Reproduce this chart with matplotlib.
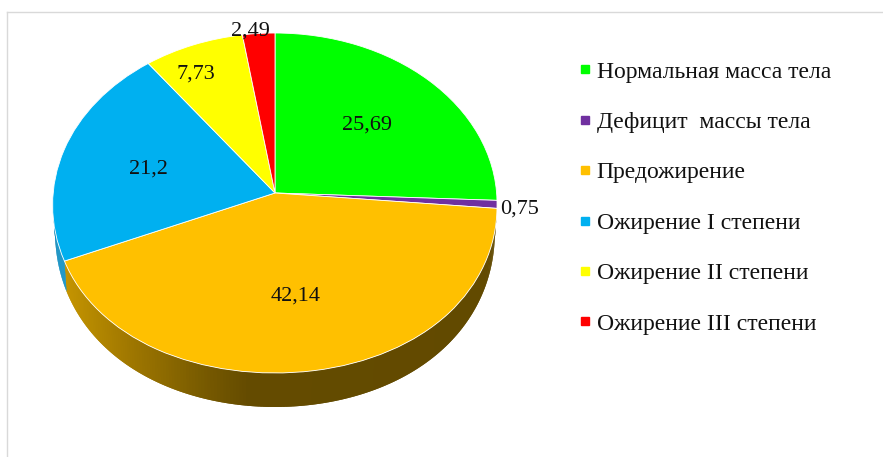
import matplotlib
matplotlib.use('Agg')
import matplotlib.pyplot as plt
import numpy as np
from matplotlib.lines import Line2D
from matplotlib.transforms import Transform

plt.rcParams['font.family'] = ['Liberation Serif', 'DejaVu Serif']

categories = ['Нормальная масса тела', 'Дефицит  массы тела', 'Предожирение',
              'Ожирение I степени', 'Ожирение II степени', 'Ожирение III степени']
values = [25.69, 0.75, 42.14, 21.2, 7.73, 2.49]
value_labels = ['25,69', '0,75', '42,14', '21,2', '7,73', '2,49']
colors = ['#00ff00', '#7030a0', '#ffc000', '#00b0f0', '#ffff00', '#ff0000']
label_pos = [(367, 125), (520, 209), (296, 296), (148, 169), (196, 74), (250, 31)]

W, H = 883, 457
cx, cy = 275, 193


# perspective of the tilted disc: unit circle -> pixels
class Tilt(Transform):
    input_dims = 2
    output_dims = 2

    def transform_non_affine(self, values):
        xy = np.asarray(values, dtype=float)
        w = 1 + 0.0588 * xy[:, 1]
        # front half of the disc is a little fuller than a true ellipse
        bulge = 1 + 0.06 * np.minimum(xy[:, 1], 0) ** 2
        return np.column_stack((cx + 221.6 * xy[:, 0] * bulge / w, cy - 169.4 * xy[:, 1] / w))


fig = plt.figure(figsize=(W / 100, H / 100), dpi=100)
ax = fig.add_axes([0, 0, 1, 1])

wedges, _ = ax.pie(values, colors=colors, startangle=90, counterclock=False,
                   wedgeprops={'edgecolor': 'white', 'linewidth': 0.6})
ax.set_aspect('auto')
ax.set_xlim(0, W)
ax.set_ylim(H, 0)
ax.axis('off')

tilt = Tilt()
for w in wedges:
    w.set_transform(tilt + ax.transData)
    w.set_zorder(5)

# side wall of the pie, only the front slices show it
edges = np.cumsum([0] + values) * 3.6
x_stops = [66, 130, 200, 250, 500]
r_stops = [0xc4, 0xa0, 0x7a, 0x64, 0x62]
g_stops = [0x94, 0x78, 0x5c, 0x4b, 0x4a]
for i in (2, 3):
    a1 = edges[i]
    a2 = min(edges[i + 1], 270)
    t = np.radians(np.linspace(a1, a2, 200))
    rim = tilt.transform_non_affine(np.column_stack((np.sin(t), np.cos(t))))
    low = rim.copy()
    low[:, 0] = cx + (rim[:, 0] - cx) * 0.99
    low[:, 1] = rim[:, 1] + 28 - 6 * np.cos(t)
    # strips overlap the next one so no seams show
    for j in range(len(t) - 1):
        k = min(j + 3, len(t))
        if i == 2:
            px = rim[j, 0]
            c = (np.interp(px, x_stops, r_stops) / 255,
                 np.interp(px, x_stops, g_stops) / 255, 0)
        else:
            c = '#0a8fc4'
        ax.fill(np.r_[rim[j:k, 0], low[j:k, 0][::-1]], np.r_[rim[j:k, 1], low[j:k, 1][::-1]],
                color=c, lw=0, zorder=2)

for s, (px, py) in zip(value_labels, label_pos):
    fig.text(px / W, 1 - py / H, s, fontsize=16, color='#111111', ha='center', va='center', zorder=10)

handles = [Line2D([], [], ls='none', marker='s', ms=6, color=c) for c in colors]
leg = fig.legend(handles, categories, loc='upper left', bbox_to_anchor=(579 / W, 1 - 61 / H),
                 frameon=False, fontsize=17, labelspacing=1.224, handlelength=0.5,
                 handletextpad=0.25, borderpad=0, borderaxespad=0, labelcolor='#111111')

# chart frame
fig.add_artist(Line2D([7 / W, 7 / W], [0, 1 - 12 / H], color='#d9d9d9', lw=1))
fig.add_artist(Line2D([7 / W, 1], [1 - 12 / H, 1 - 12 / H], color='#d9d9d9', lw=1))

fig.savefig('out.png', dpi=100)
